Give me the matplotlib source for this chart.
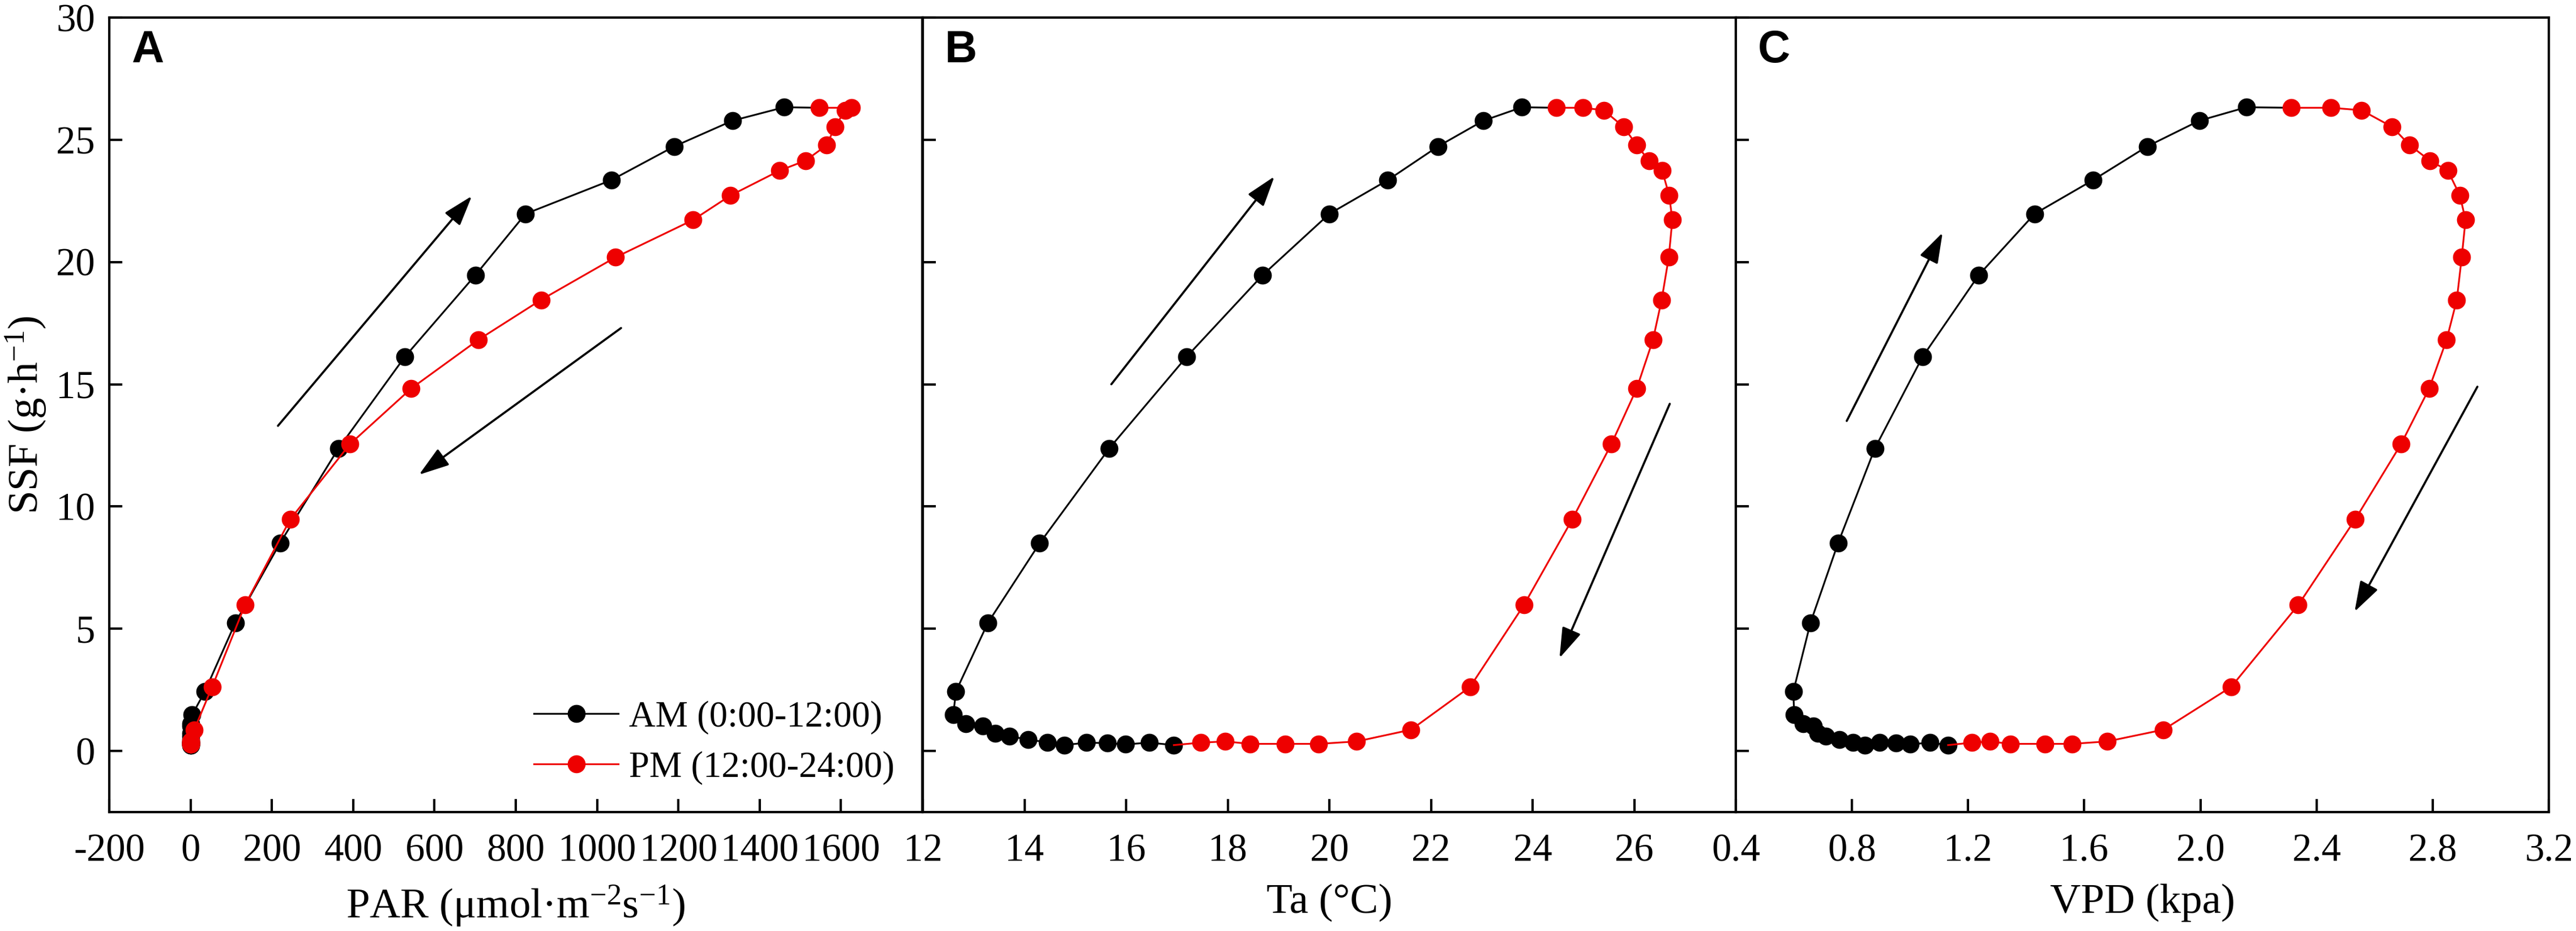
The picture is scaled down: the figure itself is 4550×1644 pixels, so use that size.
import numpy as np
import matplotlib
matplotlib.use("Agg")
import matplotlib.pyplot as plt
from matplotlib.lines import Line2D

plt.rcParams['font.family'] = ['Liberation Serif', 'DejaVu Serif']
plt.rcParams['mathtext.fontset'] = 'custom'
plt.rcParams['mathtext.rm'] = 'Liberation Serif'
plt.rcParams['mathtext.it'] = 'Liberation Serif:italic'
plt.rcParams['axes.unicode_minus'] = False

# ---------------- data (half-hourly) ----------------
ssf_am = [0.24, 0.34, 0.27, 0.32, 0.34, 0.24, 0.36, 0.46, 0.61, 0.73, 1.02, 1.12,
          1.48, 2.43, 5.24, 8.50, 12.38, 16.12, 19.47, 21.97, 23.35, 24.73, 25.78, 26.33]
par_am = [0, 0, 0, 0, 0, 0, 0, 0, 0, 0, 0, 0,
          4, 35, 110, 220, 364, 527, 701, 824, 1035, 1190, 1333, 1460]
ta_am = [16.94, 16.46, 15.99, 15.63, 15.22, 14.78, 14.45, 14.07, 13.71, 13.43, 13.18, 12.85,
         12.60, 12.65, 13.28, 14.30, 15.67, 17.19, 18.69, 20.00, 21.15, 22.14, 23.03, 23.79]
vpd_am = [1.131, 1.069, 1.000, 0.952, 0.896, 0.844, 0.803, 0.756, 0.711, 0.682, 0.667, 0.633,
          0.601, 0.598, 0.657, 0.752, 0.879, 1.043, 1.237, 1.429, 1.630, 1.817, 1.996, 2.158]

ssf_pm = [26.31, 26.31, 26.21, 25.53, 24.78, 24.15, 23.74, 22.72, 21.72, 20.19, 18.45, 16.82,
          14.83, 12.55, 9.47, 5.97, 2.62, 0.87, 0.39, 0.29, 0.29, 0.29, 0.39, 0.34]
par_pm = [1547, 1626, 1611, 1585, 1565, 1513, 1449, 1328, 1236, 1045, 862, 708,
          543, 392, 245, 134, 53, 9, 0, 0, 0, 0, 0, 0]
ta_pm = [24.47, 24.99, 25.40, 25.79, 26.05, 26.29, 26.55, 26.69, 26.75, 26.68, 26.54, 26.37,
         26.05, 25.55, 24.78, 23.83, 22.77, 21.61, 20.54, 19.79, 19.13, 18.44, 17.95, 17.47]
vpd_pm = [2.313, 2.449, 2.555, 2.660, 2.721, 2.790, 2.852, 2.894, 2.913, 2.900, 2.883, 2.848,
          2.788, 2.691, 2.533, 2.337, 2.106, 1.873, 1.679, 1.558, 1.465, 1.345, 1.276, 1.213]

# arrows: (x_tail, y_tail, x_head, y_head)
arrows_a = [(215, 13.3, 692, 22.7), (1059, 17.3, 562, 11.3)]
arrows_b = [(15.71, 15.0, 18.92, 23.5), (26.70, 14.2, 24.53, 3.8)]
arrows_c = [(0.782, 13.5, 1.112, 21.2), (2.954, 14.9, 2.531, 5.7)]

panel_letters = ['A', 'B', 'C']
xlabels = ['PAR (μmol·m$^{-2}$s$^{-1}$)', 'Ta (°C)', 'VPD (kpa)']
ylabel = 'SSF (g·h$^{-1}$)'
xlims = [(-200, 1800), (12, 28), (0.4, 3.2)]
xticks = [list(range(-200, 1601, 200)), list(range(12, 27, 2)),
          [0.4, 0.8, 1.2, 1.6, 2.0, 2.4, 2.8, 3.2]]
xticklabels = [[str(v) for v in xticks[0]], [str(v) for v in xticks[1]],
               ['0.4', '0.8', '1.2', '1.6', '2.0', '2.4', '2.8', '3.2']]
yticks = [0, 5, 10, 15, 20, 25, 30]
legend_labels = ['AM (0:00-12:00)', 'PM (12:00-24:00)']

# ---------------- figure ----------------
W, H = 4550, 1644
fig = plt.figure(figsize=(W / 300, H / 300), dpi=300)
lefts = [193, 1630, 3066]
pw = 1436
bottom = 210
ph = 1403

xs_am = [par_am, ta_am, vpd_am]
xs_pm = [par_pm, ta_pm, vpd_pm]
arrows = [arrows_a, arrows_b, arrows_c]

red = '#ee0000'
ms = 6.6
lw = 0.75
for i in range(3):
    ax = fig.add_axes([lefts[i] / W, bottom / H, pw / W, ph / H])
    xa = np.asarray(xs_am[i], float)
    xp = np.asarray(xs_pm[i], float)
    ya = np.asarray(ssf_am, float)
    yp = np.asarray(ssf_pm, float)
    # lines
    ax.plot(np.append(xa, xp[0]), np.append(ya, yp[0]), color='black', lw=lw, zorder=2)
    ax.plot(np.append(xp, xa[0]), np.append(yp, ya[0]), color=red, lw=lw, zorder=3)
    ax.plot(xa, ya, 'o', color='black', ms=ms, mec='black', zorder=2.5)
    ax.plot(xp, yp, 'o', color=red, ms=ms, mec=red, zorder=3.5)

    for (x0, y0, x1, y1) in arrows[i]:
        ax.annotate('', xy=(x1, y1), xytext=(x0, y0),
                    arrowprops=dict(arrowstyle='-|>,head_length=0.55,head_width=0.18',
                                    color='black', lw=0.9, mutation_scale=20,
                                    shrinkA=0, shrinkB=0))

    ax.set_xlim(*xlims[i])
    ax.set_ylim(-2.5, 30)
    ax.set_xticks(xticks[i])
    ax.set_xticklabels(xticklabels[i])
    ax.set_yticks(yticks)
    if i == 0:
        ax.set_yticklabels([str(v) for v in yticks])
        ax.set_ylabel(ylabel, fontsize=18)
        ax.yaxis.label.set_va('center')
        ax.yaxis.set_label_coords(-0.102, 0.5)
    else:
        ax.set_yticklabels([])
    ax.tick_params(axis='both', direction='in', length=5.5, width=1.0,
                   labelsize=16.5, right=False, top=False)
    ax.tick_params(axis='x', pad=9)
    ax.tick_params(axis='y', pad=6)
    for s in ax.spines.values():
        s.set_linewidth(1.0)
    ax.set_xlabel(xlabels[i], fontsize=18)
    ax.xaxis.set_label_coords(0.5, -0.09)
    ax.text(0.027, 0.985, panel_letters[i], transform=ax.transAxes,
            fontsize=19, fontweight='bold', family='Liberation Sans',
            ha='left', va='top')

    if i == 0:
        handles = [Line2D([], [], color='black', lw=lw, marker='o', ms=ms),
                   Line2D([], [], color=red, lw=lw, marker='o', ms=ms)]
        ax.legend(handles, legend_labels, loc='lower right', frameon=False,
                  fontsize=15.5, handlelength=2.3, handletextpad=0.3,
                  labelspacing=0.45, bbox_to_anchor=(0.984, 0.016),
                  borderaxespad=0.0)

fig.savefig('out.png', dpi=300)
